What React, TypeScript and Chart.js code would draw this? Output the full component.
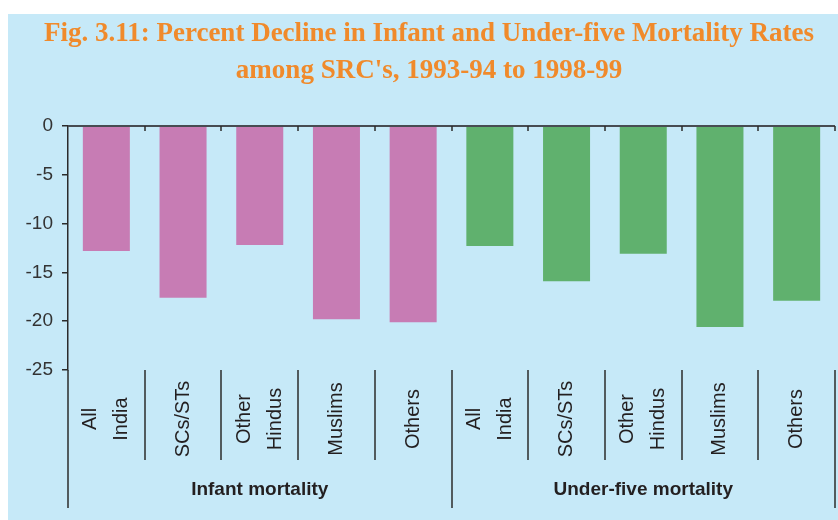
import React, { useEffect, useRef } from "react";
import { Chart, registerables } from "chart.js";

Chart.register(...registerables);

const titleLines = [
  "Fig. 3.11: Percent Decline in Infant and Under-five Mortality Rates",
  "among SRC's, 1993-94 to 1998-99",
];
const groups = ["Infant mortality", "Under-five mortality"];
const categories = ["All India", "SCs/STs", "Other Hindus", "Muslims", "Others"];
const categoryLines = [["All", "India"], ["SCs/STs"], ["Other", "Hindus"], ["Muslims"], ["Others"]];
const infantDecline = [-12.8, -17.6, -12.2, -19.8, -20.1];
const underFiveDecline = [-12.3, -15.9, -13.1, -20.6, -17.9];
const groupColors = ["#c77cb4", "#60b16e"];
const yTicks = { min: -25, max: 0, step: 5 };

const BG = "#c6e9f8";
const INK = "#231f20";

const decorPlugin = {
  id: "decor",
  afterDraw(chart: any) {
    const ctx = chart.ctx;
    const xs = chart.scales.x;
    const ys = chart.scales.y;
    const area = chart.chartArea;
    const n = categories.length;
    ctx.save();
    // title
    ctx.fillStyle = "#f08a2b";
    ctx.font = 'bold 27px "Liberation Serif", serif';
    ctx.textAlign = "center";
    ctx.textBaseline = "alphabetic";
    ctx.fillText(titleLines[0], 421, 27);
    ctx.fillText(titleLines[1], 421, 64);

    // zero line
    const y0 = ys.getPixelForValue(0);
    ctx.strokeStyle = "#474c52";
    ctx.lineWidth = 2;
    ctx.beginPath();
    ctx.moveTo(area.left, y0);
    ctx.lineTo(area.right, y0);
    ctx.stroke();

    // small ticks on zero line and dividers below
    ctx.strokeStyle = "#2b2b2b";
    ctx.lineWidth = 1.5;
    const total = n * groups.length;
    for (let k = 0; k <= total; k++) {
      const x = Math.round(xs.getPixelForValue(k - 0.5));
      if (k > 0) {
        ctx.beginPath();
        ctx.moveTo(x, y0);
        ctx.lineTo(x, y0 + 5);
        ctx.stroke();
      }
      const long = k % n === 0;
      ctx.beginPath();
      ctx.moveTo(x, area.bottom);
      ctx.lineTo(x, area.bottom + (long ? 138 : 90));
      ctx.stroke();
    }

    // category labels
    ctx.fillStyle = INK;
    ctx.font = '20px "Liberation Sans", Arial, sans-serif';
    ctx.textAlign = "center";
    ctx.textBaseline = "middle";
    for (let g = 0; g < groups.length; g++) {
      for (let i = 0; i < n; i++) {
        const idx = g * n + i;
        const x = xs.getPixelForValue(idx);
        const lines = categoryLines[i];
        ctx.save();
        ctx.translate(x, 405);
        ctx.rotate(-Math.PI / 2);
        lines.forEach((ln, j) => {
          ctx.fillText(ln, 0, (j - (lines.length - 1) / 2) * 31);
        });
        ctx.restore();
      }
    }

    // group labels
    ctx.font = 'bold 19px "Liberation Sans Narrow", "Liberation Sans", sans-serif';
    ctx.textBaseline = "alphabetic";
    for (let g = 0; g < groups.length; g++) {
      const a = xs.getPixelForValue(g * n - 0.5);
      const b = xs.getPixelForValue(g * n + n - 0.5);
      ctx.fillText(groups[g], (a + b) / 2, 481);
    }
    ctx.restore();
  },
};

export default function App() {
  const ref = useRef<HTMLCanvasElement | null>(null);
  useEffect(() => {
    if (!ref.current) return;
    const labels: string[] = [];
    const values: number[] = [];
    const colors: string[] = [];
    groups.forEach((g, gi) => {
      const src = gi === 0 ? infantDecline : underFiveDecline;
      categories.forEach((c, i) => {
        labels.push(g + " - " + c);
        values.push(src[i]);
        colors.push(groupColors[gi]);
      });
    });
    const chart = new Chart(ref.current, {
      type: "bar",
      data: {
        labels,
        datasets: [
          {
            data: values,
            backgroundColor: colors,
            borderWidth: 0,
            categoryPercentage: 1,
            barPercentage: 0.613,
          },
        ],
      },
      options: {
        responsive: false,
        animation: false,
        layout: { padding: { top: 112, right: 3, bottom: 150, left: 0 } },
        plugins: { legend: { display: false }, tooltip: { enabled: false }, title: { display: false } },
        scales: {
          x: { display: false, offset: true },
          y: {
            min: yTicks.min,
            max: yTicks.max,
            afterFit: (s: any) => {
              s.width = 60;
            },
            ticks: {
              stepSize: yTicks.step,
              color: "#333",
              padding: 9,
              font: { family: '"Liberation Sans", Arial, sans-serif', size: 19 },
            },
            grid: { drawOnChartArea: false, tickLength: 6, color: "#2b2b2b", lineWidth: 1.5 },
            border: { display: true, color: "#2b2b2b", width: 1.5 },
          },
        },
      },
      plugins: [decorPlugin],
    });
    return () => chart.destroy();
  }, []);
  return (
    <div
      style={{
        position: "absolute",
        left: 8,
        top: 14,
        width: 830,
        height: 506,
        background: BG,
      }}
    >
      <canvas ref={ref} width={830} height={506} style={{ display: "block" }} />
    </div>
  );
}
